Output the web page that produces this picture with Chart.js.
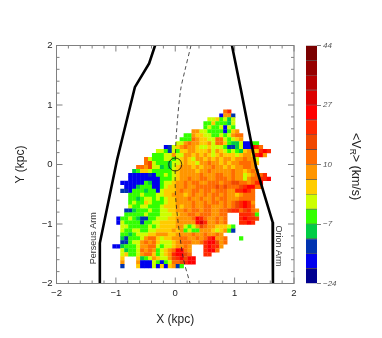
<!DOCTYPE html>
<html>
<head>
<meta charset="utf-8">
<script src="https://cdn.jsdelivr.net/npm/chart.js@4"></script>
<style>
  html, body { margin: 0; padding: 0; background: #fff; }
  #wrap { position: relative; width: 382px; height: 338px; overflow: hidden; }
  canvas { position: absolute; top: 0; }
</style>
</head>
<body>
<div id="wrap">
  <canvas id="mainChart" width="382" height="338" style="left:0"></canvas>
  <canvas id="barChart" width="82" height="338" style="left:300px"></canvas>
</div>
<script>
// colour bins of the velocity map, lowest first
const binEdges = [-24, -19.75, -15.5, -11.25, -7, -2.75, 1.5, 5.75, 10, 14.25, 18.5, 22.75, 27, 31.25, 35.5, 39.75, 44];
const binColors = ['#000090', '#0000ee', '#0033b0', '#00cc44', '#33ff00', '#ccff00', '#ffcc00', '#ff9600',
    '#ff6c00', '#f04800', '#ff2800', '#ff0000', '#dc0000', '#b80000', '#960000', '#7a0000'];
const barTicks = [-24, -7, 10, 27, 44];

// velocity bin of every map cell (hex digit = bin index, dot = no data), top row first
const firstRowY = 0.89;
const firstColX = -1.09;
const cellSize = 1 / 15;
const binRows = [
    '.............................8a',
    '............................1772',
    '.........................5564535',
    '........................44644435',
    '........................45445154',
    '.....................775544441467',
    '...................447665544545788',
    '..................4448766558854567',
    '.................557877667588643351144',
    '..............1256787765565554223511ba8',
    '............55425466776667576545436776aba',
    '...........44455755776767656766656776ab7',
    '.........85444554567657767676776778775',
    '.........89544435567665778776767788876',
    '.......887955343567776767787767677887',
    '......34665444445677776778777778776787',
    '.....1111121445456777778777887787756788a',
    '.....111111114445677877887788878775788aab',
    '...111111431145567787887788878899887' + '8ab',
    '....111344411456677877888889898889abb88',
    '...22144434415666787788788788877aaba8',
    '.....44454445566777678778788787767888',
    '.....44345545456677787787787887778888',
    '.....4544654445667777877878878789aba7',
    '.....5445544456667677877887778789aba8',
    '....223444544556677878878877889aa89a87',
    '....44444544455566778878887788...aaa94',
    '..14454322445556677778ba877878...abaa9',
    '..15444424455666677777bca77878...aaba',
    '...55444445456666775457987766654',
    '...54455445566667674544777656742',
    '...44345556677766777787787787',
    '...3244457886566778877878ab778...4',
    '...224557878655567888778abb978',
    '.11344457788545567787...abaa7',
    '...53445878745678bb87...abb8',
    '...5644578864567abb98...aa',
    '...6...6345765579ab9bb',
    '...7...711154145889abb',
    '...2...611151616724'
];

// spiral arm tracks and the dashed curve through the Sun, kpc
const perseusX = [-0.34, -0.44, -0.68, -0.98, -1.27, -1.27];
const perseusY = [2.0, 1.7, 1.3, 0.08, -1.32, -2.0];
const orionX = [0.955, 1.107, 1.36, 1.64, 1.645];
const orionY = [2.0, 1.25, -0.04, -0.97, -2.0];
const solarX = [0.265, 0.165, 0.09, 0.02, 0, 0.01, 0.13, 0.25];
const solarY = [2.0, 1.59, 1.25, 0.53, 0, -0.6, -1.55, -2.0];
const axisTicks = [-2, -1, 0, 1, 2];
const minorTicks = [-1.8, -1.6, -1.4, -1.2, -0.8, -0.6, -0.4, -0.2, 0.2, 0.4, 0.6, 0.8, 1.2, 1.4, 1.6, 1.8];

const sansFont = '"Liberation Sans", Arimo, Helvetica, sans-serif';

function minus(v) {
    return String(v).replace('-', '\u2212');
}

function toPoints(xs, ys) {
    return xs.map((x, i) => ({ x: x, y: ys[i] }));
}

// one point per filled cell
var cells = [];
binRows.forEach((row, r) => {
    row.split('').forEach((ch, c) => {
        if (ch === '.') {
            return;
        }
        cells.push({
            x: firstColX + c * cellSize,
            y: firstRowY - r * cellSize,
            bin: parseInt(ch, 16),
        });
    });
});

// inward tick marks on all four sides, the frame and the two arm names
const frameAndLabels = {
    id: 'frameAndLabels',
    afterDatasetsDraw(chart) {
        const { ctx, chartArea: a, scales: { x, y } } = chart;
        ctx.save();
        ctx.strokeStyle = '#808080';
        ctx.lineWidth = 1;
        ctx.strokeRect(a.left, a.top, a.right - a.left, a.bottom - a.top);
        ctx.beginPath();
        const mark = (v, len) => {
            const px = x.getPixelForValue(v);
            const py = y.getPixelForValue(v);
            ctx.moveTo(px, a.bottom); ctx.lineTo(px, a.bottom - len);
            ctx.moveTo(px, a.top); ctx.lineTo(px, a.top + len);
            ctx.moveTo(a.left, py); ctx.lineTo(a.left + len, py);
            ctx.moveTo(a.right, py); ctx.lineTo(a.right - len, py);
        };
        axisTicks.forEach((v) => mark(v, 6));
        minorTicks.forEach((v) => mark(v, 3));
        ctx.stroke();

        ctx.fillStyle = '#333';
        ctx.font = '9px ' + sansFont;
        ctx.textAlign = 'center';
        ctx.textBaseline = 'middle';
        ctx.translate(x.getPixelForValue(-1.38), y.getPixelForValue(-1.24));
        ctx.rotate(-Math.PI / 2);
        ctx.fillText('Perseus Arm', 0, 0);
        ctx.restore();

        ctx.save();
        ctx.fillStyle = '#333';
        ctx.font = '9px ' + sansFont;
        ctx.textAlign = 'center';
        ctx.textBaseline = 'middle';
        ctx.translate(x.getPixelForValue(1.74), y.getPixelForValue(-1.37));
        ctx.rotate(Math.PI / 2);
        ctx.fillText('Orion Arm', 0, 0);
        ctx.restore();
    },
};

const axisOptions = (title) => ({
    type: 'linear',
    min: -2,
    max: 2,
    afterBuildTicks(scale) {
        scale.ticks = axisTicks.map((v) => ({ value: v }));
    },
    grid: { display: false, drawTicks: false },
    border: { display: false },
    ticks: {
        autoSkip: false,
        maxRotation: 0,
        padding: 4,
        color: '#222',
        font: { family: sansFont, size: 9.5 },
        callback: (v) => minus(v),
    },
    title: {
        display: true,
        text: title,
        color: '#222',
        font: { family: sansFont, size: 12 },
    },
});

var xAxis = axisOptions('X (kpc)');
xAxis.title.padding = { top: 0, bottom: 11 };
xAxis.afterFit = (scale) => { scale.height = 54.5; };
var yAxis = axisOptions('Y (kpc)');
yAxis.title.padding = { top: 13, bottom: 0 };
yAxis.afterFit = (scale) => { scale.width = 56.5; };

new Chart(document.getElementById('mainChart').getContext('2d'), {
    type: 'scatter',
    data: {
        datasets: [
            {
                data: [{ x: 0, y: 0 }],
                pointRadius: 6.5,
                pointBackgroundColor: 'rgba(0,0,0,0)',
                pointBorderColor: '#111',
                pointBorderWidth: 0.8,
                order: 0,
            },
            {
                data: toPoints(perseusX, perseusY),
                showLine: true,
                borderColor: '#000',
                borderWidth: 2.6,
                pointRadius: 0,
                order: 1,
            },
            {
                data: toPoints(orionX, orionY),
                showLine: true,
                borderColor: '#000',
                borderWidth: 2.6,
                pointRadius: 0,
                order: 2,
            },
            {
                data: toPoints(solarX, solarY),
                showLine: true,
                tension: 0.3,
                borderColor: '#222',
                borderWidth: 0.8,
                borderDash: [4, 3],
                pointRadius: 0,
                order: 3,
            },
            {
                data: cells,
                pointStyle: 'rect',
                pointRadius: 3,
                pointBorderWidth: 0,
                pointBackgroundColor: (c) => binColors[c.raw.bin],
                order: 4,
            },
        ],
    },
    options: {
        responsive: false,
        animation: false,
        layout: { padding: { left: 0, top: 45.5, right: 88, bottom: 0 } },
        plugins: { legend: { display: false }, tooltip: { enabled: false } },
        scales: { x: xAxis, y: yAxis },
    },
    plugins: [frameAndLabels],
});

// colour bar with the rotated <V_R> title
const barTitle = {
    id: 'barTitle',
    afterDraw(chart) {
        const { ctx } = chart;
        ctx.save();
        ctx.translate(55, 133);
        ctx.rotate(Math.PI / 2);
        ctx.fillStyle = '#222';
        ctx.textBaseline = 'middle';
        ctx.textAlign = 'left';
        ctx.font = '12.5px ' + sansFont;
        ctx.fillText('<V', 0, 0);
        var w = ctx.measureText('<V').width;
        ctx.font = '8.5px ' + sansFont;
        ctx.fillText('R', w, 3);
        w += ctx.measureText('R').width;
        ctx.font = '12.5px ' + sansFont;
        ctx.fillText('> (km/s)', w, 0);
        ctx.restore();
    },
};

new Chart(document.getElementById('barChart').getContext('2d'), {
    type: 'bar',
    data: {
        labels: ['V'],
        datasets: binColors.map((color, i) => ({
            data: [[binEdges[i], binEdges[i + 1]]],
            backgroundColor: color,
            borderColor: 'rgba(20,0,0,0.55)',
            borderWidth: { top: 0.6, bottom: 0.6, left: 0, right: 0 },
            borderSkipped: false,
            barPercentage: 1,
            categoryPercentage: 1,
        })),
    },
    options: {
        responsive: false,
        animation: false,
        layout: { padding: { left: 6, top: 45.5, right: 0, bottom: 54.5 } },
        plugins: { legend: { display: false }, tooltip: { enabled: false } },
        scales: {
            x: { display: false, stacked: true },
            y: {
                position: 'right',
                min: barTicks[0],
                max: barTicks[barTicks.length - 1],
                afterBuildTicks(scale) {
                    scale.ticks = barTicks.map((v) => ({ value: v }));
                },
                afterFit(scale) { scale.width = 65; },
                grid: { drawOnChartArea: false, tickLength: 4, tickColor: '#808080' },
                border: { display: false },
                ticks: {
                    padding: 2,
                    color: '#555',
                    font: { family: sansFont, size: 8, style: 'italic' },
                    callback: (v) => minus(v),
                },
            },
        },
    },
    plugins: [barTitle],
});
</script>
</body>
</html>
